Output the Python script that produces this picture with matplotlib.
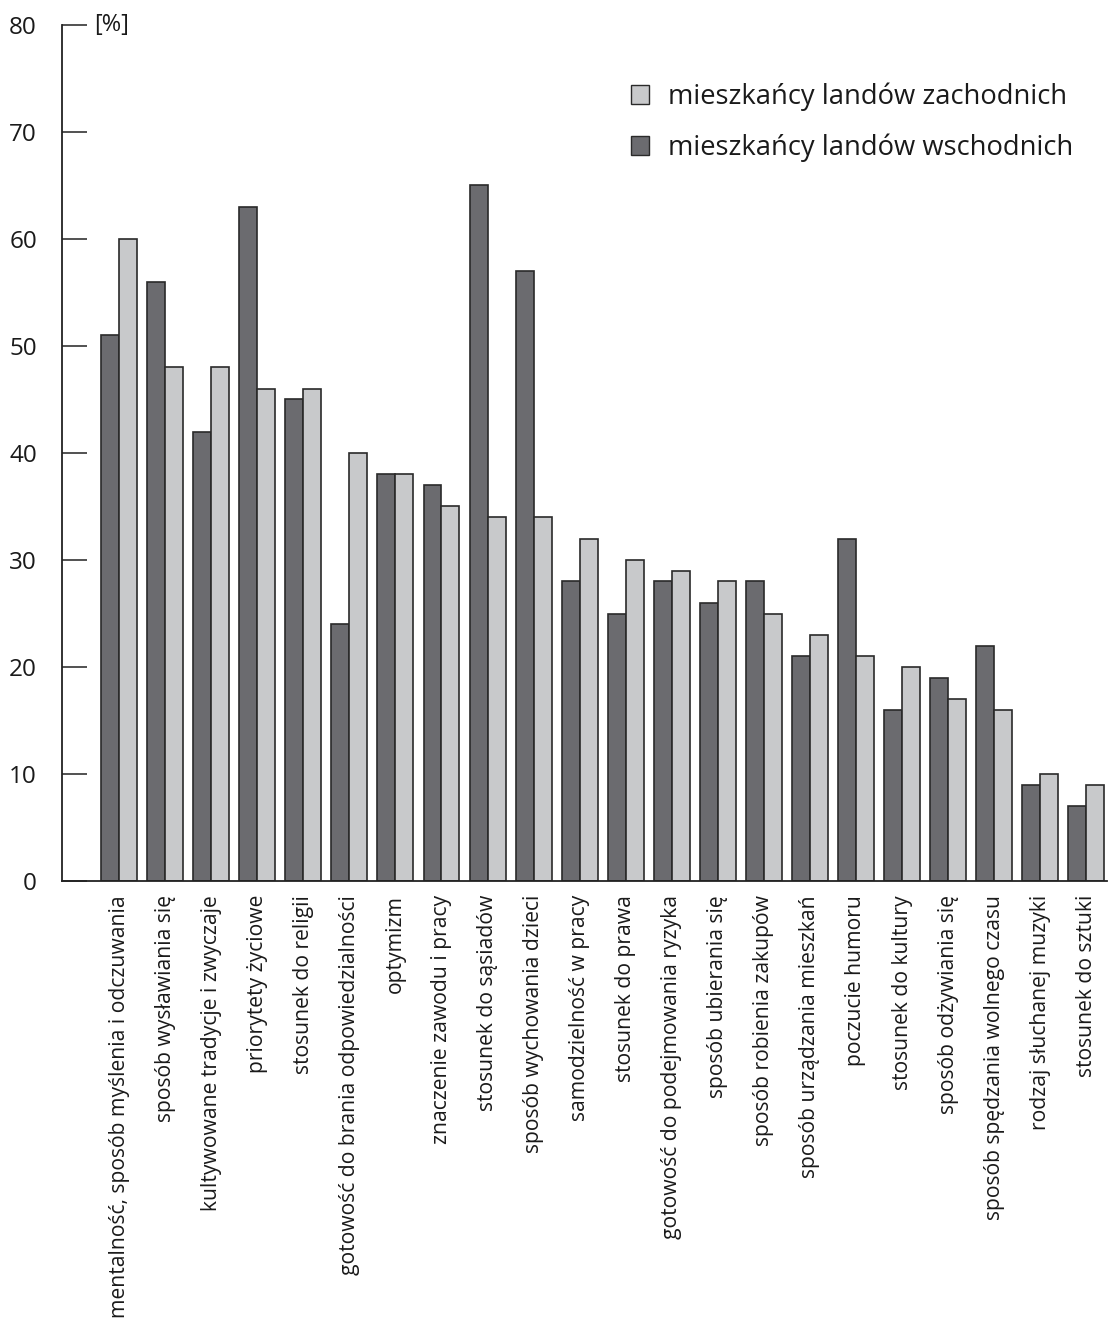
import matplotlib
matplotlib.use("Agg")
import matplotlib.pyplot as plt
from matplotlib.patches import Patch
import numpy as np

plt.rcParams['font.family'] = ['Open Sans', 'DejaVu Sans']

categories = [
    "mentalność, sposób myślenia i odczuwania",
    "sposób wysławiania się",
    "kultywowane tradycje i zwyczaje",
    "priorytety życiowe",
    "stosunek do religii",
    "gotowość do brania odpowiedzialności",
    "optymizm",
    "znaczenie zawodu i pracy",
    "stosunek do sąsiadów",
    "sposób wychowania dzieci",
    "samodzielność w pracy",
    "stosunek do prawa",
    "gotowość do podejmowania ryzyka",
    "sposób ubierania się",
    "sposób robienia zakupów",
    "sposób urządzania mieszkań",
    "poczucie humoru",
    "stosunek do kultury",
    "sposób odżywiania się",
    "sposób spędzania wolnego czasu",
    "rodzaj słuchanej muzyki",
    "stosunek do sztuki",
]
east = [51, 56, 42, 63, 45, 24, 38, 37, 65, 57, 28, 25, 28, 26, 28, 21, 32, 16, 19, 22, 9, 7]
west = [60, 48, 48, 46, 46, 40, 38, 35, 34, 34, 32, 30, 29, 28, 25, 23, 21, 20, 17, 16, 10, 9]
yticks = [0, 10, 20, 30, 40, 50, 60, 70, 80]

label_west = "mieszkańcy landów zachodnich"
label_east = "mieszkańcy landów wschodnich"

dark = "#6b6b6f"
light = "#c8c9cb"
edge = "#2a2a2a"

fig = plt.figure(figsize=(11.09, 13.22), dpi=100)
W, H = 1109, 1322
ax = fig.add_axes([62 / W, 1 - 881 / H, (1107 - 62) / W, (881 - 25) / H])

x = np.arange(len(categories))
bw = 0.39
ax.bar(x - bw / 2, east, width=bw, color=dark, edgecolor=edge, linewidth=1.2)
ax.bar(x + bw / 2, west, width=bw, color=light, edgecolor=edge, linewidth=1.2)

ax.set_xlim(-1.24, 21.45)
ax.set_ylim(0, 80)
ax.set_yticks(yticks)
ax.set_yticklabels([str(v) for v in yticks], fontsize=17.5, color="#1a1a1a")
ax.tick_params(axis="y", direction="in", length=18, width=1.2, pad=18, color="#333333")
ax.set_xticks(x)
ax.set_xticklabels(categories, rotation=90, fontsize=15.2, color="#1a1a1a", va="top", ha="center")
ax.tick_params(axis="x", length=0, pad=10)

for s in ["top", "right"]:
    ax.spines[s].set_visible(False)
for s in ["left", "bottom"]:
    ax.spines[s].set_linewidth(1.3)
    ax.spines[s].set_color("#222222")

ax.text(-0.54, 80, "[%]", fontsize=17, va="center", ha="left", color="#1a1a1a")

handles = [Patch(facecolor=light, edgecolor=edge, linewidth=1.0, label=label_west),
           Patch(facecolor=dark, edgecolor=edge, linewidth=1.0, label=label_east)]
fig.legend(handles=handles, loc="upper left", bbox_to_anchor=(606 / W, 1 - 58 / H),
           frameon=False, fontsize=19.7, handlelength=0.68, handleheight=0.68,
           handletextpad=0.68, labelspacing=0.83, labelcolor="#1a1a1a")

fig.savefig("out.png", dpi=100)
